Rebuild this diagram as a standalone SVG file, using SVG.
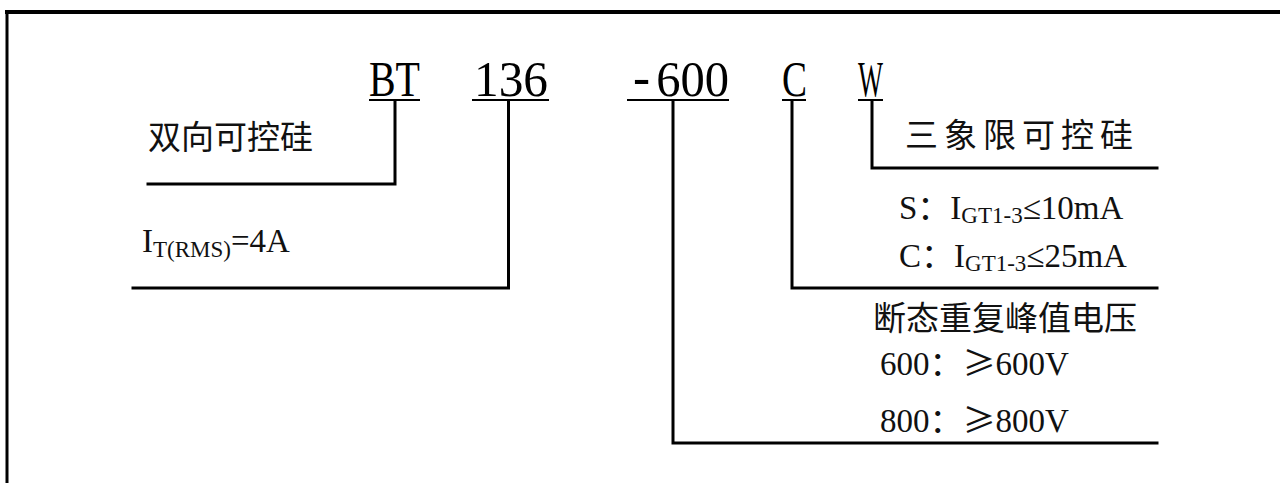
<svg xmlns="http://www.w3.org/2000/svg" width="1280" height="483" viewBox="0 0 1280 483">
<style>
.code{font-family:"Liberation Serif",serif;font-size:51px;fill:#000}
.ul{stroke:#000;stroke-width:2}
.conn{fill:none;stroke:#000;stroke-width:3;stroke-linejoin:miter;stroke-linecap:square}
.cjk{font-family:"Noto Sans CJK SC",sans-serif;font-size:33px;fill:#111}
.lat{font-family:"Liberation Serif","Noto Sans CJK SC",serif;font-size:33px;fill:#111}
.sub{font-size:23px}
.fw{font-family:"Noto Sans CJK SC",sans-serif}
</style>
<rect width="1280" height="483" fill="#fff"/>
<g id="frame">
<line x1="5" y1="12" x2="1280" y2="12" stroke="#000" stroke-width="4"/>
<line x1="7" y1="10" x2="7" y2="483" stroke="#000" stroke-width="3"/>
</g>
<g id="code-BT">
<text class="code" x="369" y="96" textLength="51" lengthAdjust="spacingAndGlyphs">BT</text>
<line class="ul" x1="369" y1="100" x2="420" y2="100"/>
</g>
<g id="code-136">
<text class="code" x="474" y="96" textLength="74" lengthAdjust="spacingAndGlyphs">136</text>
<line class="ul" x1="472" y1="100" x2="549" y2="100"/>
</g>
<g id="code-600">
<text class="code" x="627" y="96" textLength="102" lengthAdjust="spacingAndGlyphs"><tspan font-family="Liberation Mono">-</tspan>600</text>
<line class="ul" x1="627" y1="100" x2="729" y2="100"/>
</g>
<g id="code-C">
<text class="code" x="782" y="96" textLength="25" lengthAdjust="spacingAndGlyphs">C</text>
<line class="ul" x1="782" y1="100" x2="806" y2="100"/>
</g>
<g id="code-W">
<text class="code" x="858" y="96" textLength="25" lengthAdjust="spacingAndGlyphs">W</text>
<line class="ul" x1="858" y1="100" x2="883" y2="100"/>
</g>
<g id="connectors">
<polyline class="conn" points="395,101 395,184 148,184"/>
<polyline class="conn" points="508.5,101 508.5,288 133,288"/>
<polyline class="conn" points="673,101 673,443 1157,443"/>
<polyline class="conn" points="792,101 792,288 1157,288"/>
<polyline class="conn" points="872,101 872,168 1157,168"/>
</g>
<g id="label-bidirectional">
<text class="cjk" x="148" y="149">双向可控硅</text>
</g>
<g id="label-current">
<text class="lat" x="142" y="252">I<tspan class="sub" dy="5">T(RMS)</tspan><tspan dy="-5">=4A</tspan></text>
</g>
<g id="label-threequadrant">
<text class="cjk" x="905" y="147" letter-spacing="6">三象限可控硅</text>
</g>
<g id="label-gate">
<text class="lat" x="899" y="219">S<tspan class="fw">：</tspan>I<tspan class="sub" dy="4">GT1-3</tspan><tspan dy="-4">≤10mA</tspan></text>
<text class="lat" x="899" y="267">C<tspan class="fw">：</tspan>I<tspan class="sub" dy="4">GT1-3</tspan><tspan dy="-4">≤25mA</tspan></text>
</g>
<g id="label-voltage">
<text class="cjk" x="873" y="330">断态重复峰值电压</text>
<text class="lat" x="880" y="375">600<tspan class="fw">：≥</tspan>600V</text>
<text class="lat" x="880" y="432">800<tspan class="fw">：≥</tspan>800V</text>
</g>
</svg>
